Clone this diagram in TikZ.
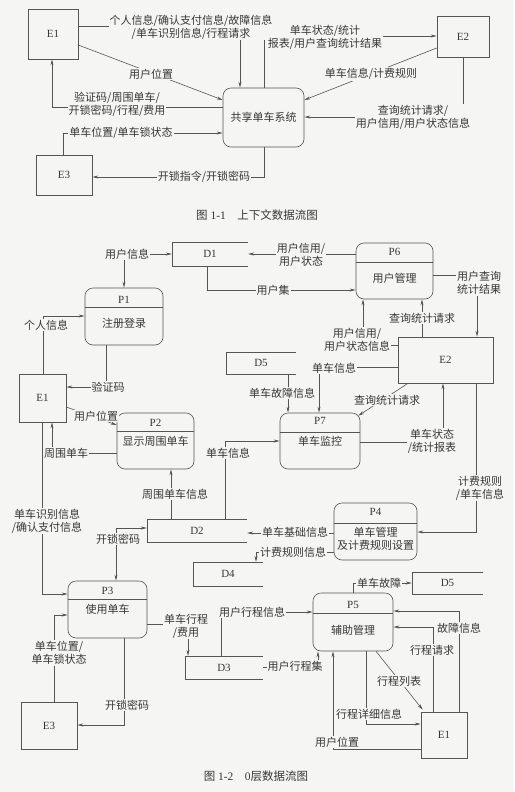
\documentclass[tikz,border=0pt]{standalone}
\usepackage{fontspec}
\setmainfont{Liberation Serif}
\newfontfamily\cjk{Noto Sans CJK SC}
\usetikzlibrary{arrows.meta}
\definecolor{bg}{RGB}{245,245,243}
\definecolor{ln}{RGB}{85,85,85}
\definecolor{tx}{RGB}{55,55,55}
\begin{document}
\begin{tikzpicture}[x=1pt,y=-1pt,
  flow/.style={draw=ln, line width=0.6pt, -{Stealth[length=6pt,width=3pt]}},
  bflow/.style={draw=ln, line width=0.6pt, {Stealth[length=6pt,width=3pt]}-{Stealth[length=6pt,width=3pt]}},
  plain/.style={draw=ln, line width=0.6pt},
  ext/.style={draw=ln, line width=0.6pt, inner sep=0pt, font=\fontsize{11}{13}\selectfont, text=tx},
  proc/.style={draw=ln, line width=0.6pt, rounded corners=8pt, inner sep=0pt},
  store/.style={inner sep=0pt, font=\fontsize{11}{13}\selectfont, text=tx},
  lab/.style={fill=bg, inner sep=1pt, font=\cjk\fontsize{11}{13}\selectfont, align=center, text=tx},
  pid/.style={inner sep=0pt, font=\fontsize{11}{13}\selectfont, text=tx},
  pname/.style={inner sep=0pt, font=\cjk\fontsize{11}{13}\selectfont, align=center, text=tx},
  captxt/.style={inner sep=0pt, font=\fontsize{11.5}{13}\selectfont, text=tx},
]
\path[fill=bg] (0,0) rectangle (514,792);

% ================= Figure 1-1 =================
\node[ext, minimum width=50pt, minimum height=50pt] (E1a) at (53,34) {E1};
\node[ext, minimum width=52pt, minimum height=41pt] (E2a) at (463,36.5) {E2};
\node[ext, minimum width=56pt, minimum height=40pt] (E3a) at (64,175) {E3};
\node[proc, minimum width=81pt, minimum height=59pt, font=\cjk\fontsize{11}{13}\selectfont, text=tx] (P0) at (263.5,117.5) {共享单车系统};

\draw[flow] (E1a.east |- 0,26) -| (P0.north -| 240,0);
\draw[flow] (E1a.east |- 0,45) -- (P0.west |- 0,100);
\draw[flow] (P0.west |- 0,107) -| (E1a.south -| 52,0);
\draw[flow] (E3a.north -| 63,0) |- (P0.west |- 0,133);
\draw[flow] (P0.south -| 264,0) |- (E3a.east |- 0,177);
\draw[flow] (P0.north -| 264,0) |- (E2a.west |- 0,36);
\draw[flow] (E2a.west |- 0,48) -- (P0.east |- 0,100);
\draw[flow] (E2a.south -| 463,0) |- (P0.east |- 0,117);

\node[lab] (l1) at (191,27) {个人信息/确认支付信息/故障信息\\/单车识别信息/行程请求};
\node[lab] (l2) at (151,74) {用户位置};
\node[lab] (l3) at (117,104.5) {验证码/周围单车/\\开锁密码/行程/费用};
\node[lab] (l4) at (121,133) {单车位置/单车锁状态};
\node[lab] (l5) at (204,177) {开锁指令/开锁密码};
\node[lab] (l6) at (325,37) {单车状态/统计\\报表/用户查询统计结果};
\node[lab] (l7) at (371,74) {单车信息/计费规则};
\node[lab] (l8) at (413,117) {查询统计请求/\\用户信用/用户状态信息};

\node[captxt] (c1) at (257,215) {{\cjk 图} 1-1\quad{\cjk 上下文数据流图}};

% ================= Figure 1-2 =================
% data stores
\node[store, minimum width=76pt, minimum height=24pt] (D1) at (210,254) {D1};
\node[store, minimum width=100pt, minimum height=23pt] (D2) at (197,530.5) {D2};
\node[store, minimum width=78pt, minimum height=23pt] (D3) at (224,667.5) {D3};
\node[store, minimum width=70pt, minimum height=24pt] (D4) at (228,574) {D4};
\node[store, minimum width=70pt, minimum height=22pt] (D5a) at (261,363) {D5};
\node[store, minimum width=71pt, minimum height=22pt] (D5b) at (447.5,583) {D5};
\foreach \s in {D1,D2,D3,D4,D5a,D5b}
  \draw[plain] (\s.north east) -- (\s.north west) -- (\s.south west) -- (\s.south east);

% externals
\node[ext, minimum width=47pt, minimum height=48pt] (E1b) at (42.5,398) {E1};
\node[ext, minimum width=56pt, minimum height=47pt] (E3b) at (49,725.5) {E3};
\node[ext, minimum width=95pt, minimum height=46pt] (E2b) at (445.5,360) {E2};
\node[ext, minimum width=46pt, minimum height=46pt] (E1c) at (444,735) {E1};

% processes
\node[proc, minimum width=78pt, minimum height=57pt] (P1) at (124,316.5) {};
\draw[plain] (P1.west |- 0,307) -- (P1.east |- 0,307);
\node[pid] (P1id) at (124,300) {P1};
\node[pname] (P1nm) at (124,323) {注册登录};

\node[proc, minimum width=77pt, minimum height=56pt] (P2) at (155.5,441) {};
\draw[plain] (P2.west |- 0,431) -- (P2.east |- 0,431);
\node[pid] (P2id) at (155.5,422.5) {P2};
\node[pname] (P2nm) at (155.5,441) {显示周围单车};

\node[proc, minimum width=79pt, minimum height=57pt] (P3) at (107.5,609.5) {};
\draw[plain] (P3.west |- 0,599) -- (P3.east |- 0,599);
\node[pid] (P3id) at (107.5,591) {P3};
\node[pname] (P3nm) at (107.5,609) {使用单车};

\node[proc, minimum width=83pt, minimum height=57pt] (P4) at (375.5,531.5) {};
\draw[plain] (P4.west |- 0,523) -- (P4.east |- 0,523);
\node[pid] (P4id) at (375.5,512) {P4};
\node[pname] (P4nm) at (375.5,538.5) {单车管理\\及计费规则设置};

\node[proc, minimum width=80pt, minimum height=58pt] (P5) at (353,622) {};
\draw[plain] (P5.west |- 0,613) -- (P5.east |- 0,613);
\node[pid] (P5id) at (353,605) {P5};
\node[pname] (P5nm) at (353,630) {辅助管理};

\node[proc, minimum width=77pt, minimum height=56pt] (P6) at (394.5,271) {};
\draw[plain] (P6.west |- 0,262) -- (P6.east |- 0,262);
\node[pid] (P6id) at (394.5,252) {P6};
\node[pname] (P6nm) at (394.5,278) {用户管理};

\node[proc, minimum width=80pt, minimum height=56pt] (P7) at (320,441) {};
\draw[plain] (P7.west |- 0,432) -- (P7.east |- 0,432);
\node[pid] (P7id) at (320,421) {P7};
\node[pname] (P7nm) at (320,441) {单车监控};

% source label 用户信息
\node[lab] (uinfo) at (127,254) {用户信息};

% connectors
\draw[flow] (uinfo.east) -- (D1.west);
\draw[flow] (uinfo.south -| 124,0) -- (P1.north -| 124,0);
\draw[flow] (E1b.north -| 43,0) |- (P1.west |- 0,316);
\draw[flow] (P1.south -| 106,0) |- (E1b.east |- 0,387);
\draw[flow] (E1b.east |- 0,407) -- (P2.west |- 0,425);
\draw[flow] (P2.west |- 0,453) -| (E1b.south -| 52,0);
\draw[flow] (E1b.south -| 42,0) |- (P3.west |- 0,594);
\draw[flow] (D2.north -| 171,0) -- (P2.south -| 171,0);
\draw[flow] (D2.north -| 225,0) |- (P7.west |- 0,441);
\draw[bflow] (P3.north -| 116,0) |- (D2.west |- 0,528);
\draw[flow] (E3b.north -| 54,0) |- (P3.west |- 0,615);
\draw[flow] (P3.south -| 124,0) |- (E3b.east |- 0,725);
\draw[flow] (P3.east |- 0,624) -| (D3.north -| 188,0);
\draw[flow] (D3.east) -| (P5.south -| 318,0);
\draw[flow] (D3.north -| 221,0) |- (P5.west |- 0,612);
\draw[flow] (P4.west |- 0,533) -- (D2.east |- 0,533);
\draw[flow] (P4.west |- 0,552) -| (D4.north -| 256,0);
\draw[flow] (E2b.south -| 476,0) |- (P4.east |- 0,532);
\draw[flow] (P6.west |- 0,254) -- (D1.east);
\draw[flow] (D1.south -| 207,0) |- (P6.west |- 0,290);
\draw[flow] (P6.east |- 0,275) -| (E2b.north -| 477,0);
\draw[flow] (E2b.west |- 0,345) -| (P6.south -| 363,0);
\draw[flow] (E2b.north -| 422,0) -- (P6.south -| 422,0);
\draw[flow] (E2b.west |- 0,367) -| (P7.north -| 319,0);
\draw[flow] (D5a.south -| 288,0) -- (P7.north -| 288,0);
\draw[flow] (E2b.south -| 408,0) -- ([xshift=-2pt,yshift=-3pt]P7.north east);
\draw[flow] (P7.east |- 0,442) -| (E2b.south -| 443,0);
\draw[flow] (P5.north -| 353,0) |- (D5b.west);
\draw[flow] (E1c.north -| 459,0) |- (P5.east |- 0,611);
\draw[flow] (E1c.north -| 433,0) |- (P5.east |- 0,627);
\draw[flow] (P5.south -| 376,0) -- ([xshift=2pt,yshift=2pt]E1c.north west);
\draw[flow] (P5.south -| 366,0) |- (E1c.west |- 0,724);
\draw[flow] (E1c.west |- 0,749) -| (P5.south -| 333,0);

% labels
\node[lab] (m1) at (46,325) {个人信息};
\node[lab] (m2) at (108,387) {验证码};
\node[lab] (m3) at (96,416) {用户位置};
\node[lab] (m4) at (66,453) {周围单车};
\node[lab] (m5) at (47,521) {单车识别信息\\/确认支付信息};
\node[lab] (m6) at (175,494) {周围单车信息};
\node[lab] (m7) at (228,453) {单车信息};
\node[lab] (m8) at (118,539) {开锁密码};
\node[lab] (m9) at (59,653) {单车位置/\\单车锁状态};
\node[lab] (m10) at (127,705) {开锁密码};
\node[lab] (m11) at (186,626) {单车行程\\/费用};
\node[lab] (m12) at (295,666) {用户行程集};
\node[lab] (m13) at (252,612) {用户行程信息};
\node[lab] (m14) at (295,532) {单车基础信息};
\node[lab] (m15) at (293,552) {计费规则信息};
\node[lab] (m16) at (480,488) {计费规则\\/单车信息};
\node[lab] (m17) at (301,255) {用户信用/\\用户状态};
\node[lab] (m18) at (273,290) {用户集};
\node[lab] (m19) at (479,283) {用户查询\\统计结果};
\node[lab] (m20) at (357,340) {用户信用/\\用户状态信息};
\node[lab] (m21) at (422,318) {查询统计请求};
\node[lab] (m22) at (334,368) {单车信息};
\node[lab] (m23) at (282,393) {单车故障信息};
\node[lab] (m24) at (387,400) {查询统计请求};
\node[lab] (m25) at (432,441) {单车状态\\/统计报表};
\node[lab] (m26) at (379,583) {单车故障};
\node[lab] (m27) at (459,628) {故障信息};
\node[lab] (m28) at (432,650) {行程请求};
\node[lab] (m29) at (399,681) {行程列表};
\node[lab] (m30) at (369,714) {行程详细信息};
\node[lab] (m31) at (337,742) {用户位置};

\node[captxt] (c2) at (256,776) {{\cjk 图} 1-2\quad 0{\cjk 层数据流图}};
\end{tikzpicture}
\end{document}
